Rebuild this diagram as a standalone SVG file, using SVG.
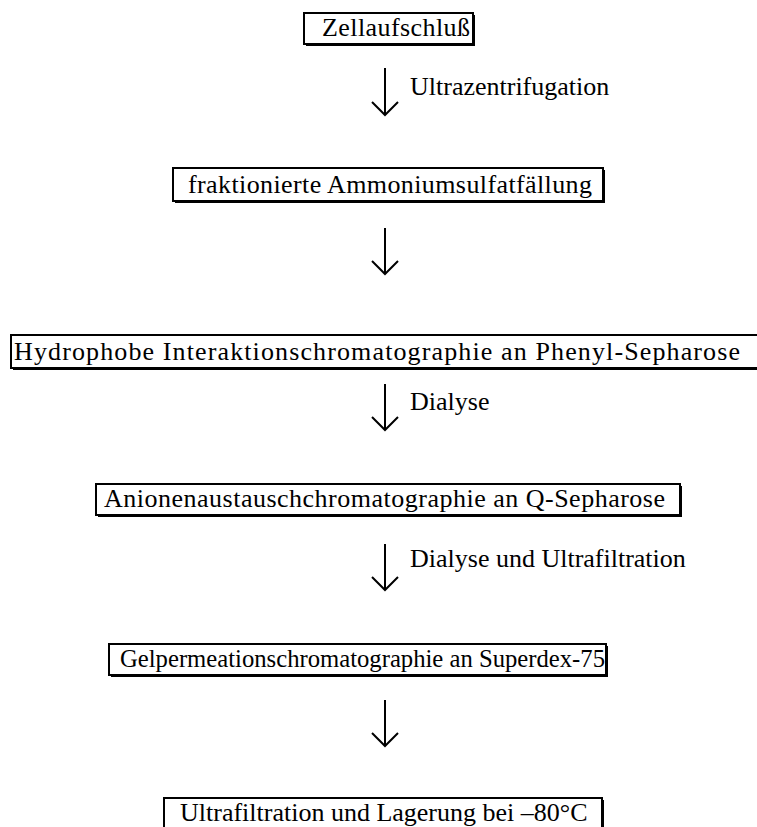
<svg xmlns="http://www.w3.org/2000/svg" width="757" height="827" viewBox="0 0 757 827">
<style>
.box{fill:#fff;stroke:#000;stroke-width:2}
.sh{fill:#000}
.arr{fill:none;stroke:#000;stroke-width:2}
</style>
<rect width="757" height="827" fill="#fff"/>
<g font-family="'Liberation Serif', 'Times New Roman', Times, serif" font-size="26" fill="#000">
<g id="n1"><rect class="sh" x="306" y="15" width="169" height="31"/><rect class="box" x="304" y="13" width="169" height="31"/><text x="322" y="36" textLength="148" lengthAdjust="spacing">Zellaufschluß</text></g>
<g id="n2"><rect class="sh" x="175" y="170" width="430" height="33"/><rect class="box" x="173" y="168" width="430" height="33"/><text x="188" y="193" textLength="404" lengthAdjust="spacing">fraktionierte Ammoniumsulfatfällung</text></g>
<g id="n3"><rect class="sh" x="13" y="337" width="760" height="33"/><rect class="box" x="11" y="335" width="760" height="33"/><text x="14" y="360" textLength="726" lengthAdjust="spacing">Hydrophobe Interaktionschromatographie an Phenyl-Sepharose</text></g>
<g id="n4"><rect class="sh" x="98" y="486" width="584" height="31"/><rect class="box" x="96" y="484" width="584" height="31"/><text x="104" y="507" textLength="561" lengthAdjust="spacing">Anionenaustauschchromatographie an Q-Sepharose</text></g>
<g id="n5"><rect class="sh" x="111" y="646" width="497" height="31"/><rect class="box" x="109" y="644" width="497" height="31"/><text x="120" y="667" textLength="485" lengthAdjust="spacingAndGlyphs">Gelpermeationschromatographie an Superdex-75</text></g>
<g id="n6"><rect class="sh" x="166" y="800" width="438" height="40"/><rect class="box" x="164" y="798" width="438" height="40"/><text x="180" y="821">Ultrafiltration und Lagerung bei –80°C</text></g>
<g id="connectors">
<path class="arr" d="M385 68V115M372 102L385 115L398 102"/>
<path class="arr" d="M385 228V274M372 261L385 274L398 261"/>
<path class="arr" d="M385 384V430M372 417L385 430L398 417"/>
<path class="arr" d="M385 544V590M372 577L385 590L398 577"/>
<path class="arr" d="M385 700V746M372 733L385 746L398 733"/>
<text x="410" y="95">Ultrazentrifugation</text>
<text x="410" y="410">Dialyse</text>
<text x="410" y="567">Dialyse und Ultrafiltration</text>
</g>
</g>
</svg>
